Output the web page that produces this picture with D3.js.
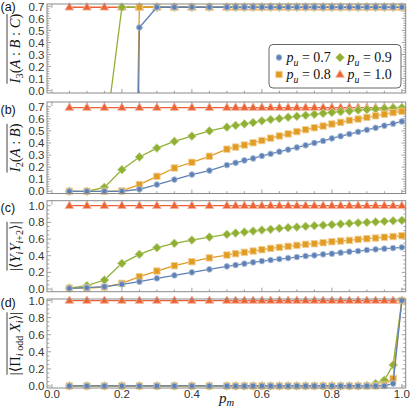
<!DOCTYPE html>
<html><head><meta charset="utf-8">
<script src="https://cdn.jsdelivr.net/npm/d3@7"></script>
<style>body{margin:0;background:#fff} svg{display:block}</style>
</head><body>
<svg id="c" width="411" height="415"></svg>
<script>
// ---- data ----
const pm = [0.05,0.1,0.15,0.2,0.25,0.3,0.35,0.4,0.45,0.5,0.525,0.55,0.575,0.6,0.625,0.65,0.675,0.7,0.725,0.75,0.775,0.8,0.825,0.85,0.875,0.9,0.925,0.95,0.975,1.0];
const puLabels = ["0.7","0.8","0.9","1.0"];

// (a) I3(A:B:C)
const I3_pu07 = [-12,-12,-12,-12,0.525,0.693,0.693,0.693,0.693,0.693,0.693,0.693,0.693,0.693,0.693,0.693,0.693,0.693,0.693,0.693,0.693,0.693,0.693,0.693,0.693,0.693,0.693,0.693,0.693,0.693];
const I3_pu08 = [-10,-10,-8,-7,0.693,0.693,0.693,0.693,0.693,0.693,0.693,0.693,0.693,0.693,0.693,0.693,0.693,0.693,0.693,0.693,0.693,0.693,0.693,0.693,0.693,0.693,0.693,0.693,0.693,0.693];
const I3_pu09 = [-1.2,-0.9,-0.44,0.693,0.693,0.693,0.693,0.693,0.693,0.693,0.693,0.693,0.693,0.693,0.693,0.693,0.693,0.693,0.693,0.693,0.693,0.693,0.693,0.693,0.693,0.693,0.693,0.693,0.693,0.693];
const I3_pu10 = [0.693,0.693,0.693,0.693,0.693,0.693,0.693,0.693,0.693,0.693,0.693,0.693,0.693,0.693,0.693,0.693,0.693,0.693,0.693,0.693,0.693,0.693,0.693,0.693,0.693,0.693,0.693,0.693,0.693,0.693];

// (b) I2(A:B)
const I2_pu07 = [0,0,0,0,0.017,0.056,0.097,0.139,0.172,0.217,0.236,0.256,0.272,0.293,0.31,0.328,0.345,0.363,0.381,0.4,0.417,0.438,0.456,0.474,0.492,0.509,0.525,0.543,0.56,0.578];
const I2_pu08 = [0,0,0,0.003,0.056,0.124,0.193,0.24,0.29,0.349,0.366,0.383,0.402,0.42,0.44,0.458,0.475,0.494,0.51,0.526,0.54,0.557,0.571,0.587,0.598,0.612,0.625,0.638,0.651,0.662];
const I2_pu09 = [0,0,0.033,0.179,0.284,0.358,0.413,0.457,0.5,0.531,0.545,0.558,0.569,0.583,0.594,0.602,0.613,0.621,0.629,0.637,0.645,0.653,0.659,0.664,0.672,0.677,0.682,0.686,0.69,0.692];
const I2_pu10 = [0.693,0.693,0.693,0.693,0.693,0.693,0.693,0.693,0.693,0.693,0.693,0.693,0.693,0.693,0.693,0.693,0.693,0.693,0.693,0.693,0.693,0.693,0.693,0.693,0.693,0.693,0.693,0.693,0.693,0.693];

// (c) |<Y_i Y_i+2>|
const YY_pu07 = [0.008,0.016,0.028,0.056,0.088,0.128,0.164,0.2,0.236,0.272,0.288,0.304,0.32,0.336,0.348,0.36,0.372,0.384,0.396,0.404,0.416,0.424,0.436,0.448,0.456,0.468,0.476,0.484,0.492,0.5];
const YY_pu08 = [0.01,0.012,0.024,0.068,0.148,0.216,0.28,0.328,0.374,0.408,0.424,0.44,0.456,0.472,0.488,0.5,0.512,0.524,0.536,0.544,0.556,0.568,0.576,0.584,0.596,0.604,0.612,0.622,0.63,0.64];
const YY_pu09 = [0.01,0.04,0.108,0.308,0.416,0.496,0.548,0.588,0.624,0.656,0.672,0.684,0.696,0.708,0.716,0.728,0.736,0.744,0.752,0.76,0.766,0.772,0.78,0.788,0.794,0.8,0.806,0.812,0.818,0.824];
const YY_pu10 = [1,1,1,1,1,1,1,1,1,1,1,1,1,1,1,1,1,1,1,1,1,1,1,1,1,1,1,1,1,1];

// (d) |<Prod_odd X_i>|
const PX_pu07 = [0,0,0,0,0,0,0,0,0,0,0,0,0,0,0,0,0,0,0,0,0,0,0,0,0,0,0,0,0.028,1];
const PX_pu08 = [0,0,0,0,0,0,0,0,0,0,0,0,0,0,0,0,0,0,0,0,0,0,0,0,0,0,0,0.01,0.087,1];
const PX_pu09 = [0,0,0,0,0,0,0,0,0,0,0,0,0,0,0,0,0,0,0,0,0,0,0,0,0,0.005,0.028,0.067,0.246,1];
const PX_pu10 = [1,1,1,1,1,1,1,1,1,1,1,1,1,1,1,1,1,1,1,1,1,1,1,1,1,1,1,1,1,1];

const xTicks = [0,0.2,0.4,0.6,0.8,1.0];

// ---- styles ----
const colors = ["#5E81B5","#E19C24","#8FB032","#EB6235"];
const markerPaths = [
  d3.symbol(d3.symbolCircle, 26)(),
  "M-3.2,-3.2H3.2V3.2H-3.2Z",
  "M0,-4.4L4.4,0L0,4.4L-4.4,0Z",
  "M0,-4.6L4.3,2.8L-4.3,2.8Z"
];
const FRAME = "#8a8a8a";
const SERIF = "'Liberation Serif','DejaVu Serif',serif";
const SANS = "'Liberation Sans',Arial,sans-serif";

const svg = d3.select("#c");
const x = d3.scaleLinear().domain([-0.014,1.011]).range([47,405.7]);

const panels = [
  {top:4, bottom:93, dom:[-0.02,0.72], max:0.7, major:0.1, minor:0.02, series:[I3_pu07,I3_pu08,I3_pu09,I3_pu10], lab:"(a)", labY:11, name:"a"},
  {top:102, bottom:193.5, dom:[-0.018,0.739], max:0.7, major:0.1, minor:0.02, series:[I2_pu07,I2_pu08,I2_pu09,I2_pu10], lab:"(b)", labY:114, name:"b"},
  {top:200.7, bottom:291.7, dom:[-0.032,1.06], max:1.0, major:0.2, minor:0.05, series:[YY_pu07,YY_pu08,YY_pu09,YY_pu10], lab:"(c)", labY:212, name:"c"},
  {top:299, bottom:388, dom:[-0.024,1.018], max:1.0, major:0.2, minor:0.05, series:[PX_pu07,PX_pu08,PX_pu09,PX_pu10], lab:"(d)", labY:307, name:"d"}
];

const defs = svg.append("defs");
const x0 = x.range()[0], x1 = x.range()[1];

panels.forEach((p, pi) => {
  const y = d3.scaleLinear().domain(p.dom).range([p.bottom, p.top]);
  const g = svg.append("g");
  defs.append("clipPath").attr("id","clip"+p.name).append("rect")
    .attr("x",x0).attr("y",p.top).attr("width",x1-x0).attr("height",p.bottom-p.top);

  // ticks
  const yMajor = d3.range(0, p.max+1e-9, p.major);
  const yMinor = d3.range(0, p.max+1e-9, p.minor).filter(v => !yMajor.some(m => Math.abs(m-v)<1e-9));
  const xMinor = d3.range(0, 1.0001, 0.05).filter(v => !xTicks.some(m => Math.abs(m-v)<1e-9));
  const tk = g.append("g").attr("stroke",FRAME).attr("stroke-width",0.8);
  yMajor.forEach(v => {
    tk.append("line").attr("x1",x0).attr("x2",x0+4).attr("y1",y(v)).attr("y2",y(v));
    tk.append("line").attr("x1",x1).attr("x2",x1-4).attr("y1",y(v)).attr("y2",y(v));
  });
  yMinor.forEach(v => {
    tk.append("line").attr("x1",x0).attr("x2",x0+2.3).attr("y1",y(v)).attr("y2",y(v));
    tk.append("line").attr("x1",x1).attr("x2",x1-2.3).attr("y1",y(v)).attr("y2",y(v));
  });
  xTicks.forEach(v => {
    tk.append("line").attr("x1",x(v)).attr("x2",x(v)).attr("y1",p.bottom).attr("y2",p.bottom-4);
    tk.append("line").attr("x1",x(v)).attr("x2",x(v)).attr("y1",p.top).attr("y2",p.top+4);
  });
  xMinor.forEach(v => {
    tk.append("line").attr("x1",x(v)).attr("x2",x(v)).attr("y1",p.bottom).attr("y2",p.bottom-2.3);
    tk.append("line").attr("x1",x(v)).attr("x2",x(v)).attr("y1",p.top).attr("y2",p.top+2.3);
  });

  // y tick labels
  g.append("g").selectAll("text").data(yMajor).join("text")
    .attr("x",44.5).attr("y",v => y(v)+4.1).attr("text-anchor","end")
    .attr("font-family",SANS).attr("font-size",11.5).attr("fill","#333")
    .text(d3.format(".1f"));

  // series: draw red, green, orange, blue (blue on top)
  const line = d3.line().x((d,i)=>x(pm[i])).y(d=>y(d));
  [3,2,1,0].forEach(si => {
    const vals = p.series[si];
    const sg = g.append("g");
    sg.append("path").attr("d", line(vals)).attr("fill","none")
      .attr("stroke",colors[si]).attr("stroke-width",1.3)
      .attr("clip-path","url(#clip"+p.name+")");
    const halo = d3.interpolateRgb(colors[si],"#ffffff")(0.5);
    sg.selectAll("path.m").data(vals.map((v,i)=>[pm[i],v]).filter(d => d[1]>=p.dom[0] && d[1]<=p.dom[1]))
      .join("path").attr("class","m")
      .attr("transform", d => `translate(${x(d[0])},${y(d[1])})`)
      .attr("d", markerPaths[si]).attr("fill",colors[si])
      .attr("stroke",halo).attr("stroke-width",0.9);
  });

  // frame
  g.append("rect").attr("x",x0).attr("y",p.top).attr("width",x1-x0).attr("height",p.bottom-p.top)
    .attr("fill","none").attr("stroke",FRAME).attr("stroke-width",1);

  // panel label
  svg.append("text").attr("x",0.5).attr("y",p.labY).attr("font-family",SANS).attr("font-size",12.5)
    .attr("fill","#111").text(p.lab);
});

// x tick labels
svg.append("g").selectAll("text").data(xTicks).join("text")
  .attr("x",v=>x(v)).attr("y",397.5).attr("text-anchor","middle")
  .attr("font-family",SANS).attr("font-size",11.5).attr("fill","#333")
  .text(d3.format(".1f"));

// math text helper: parts = [text, style] ; style: i italic, s sub, si sub italic, r roman
function mathText(sel, parts, size) {
  const t = sel.append("text").attr("font-family",SERIF).attr("font-size",size).attr("fill","#111");
  let shifted = false;
  parts.forEach(([txt, st]) => {
    const ts = t.append("tspan").text(txt);
    const sub = st.includes("s");
    if (st.includes("i")) ts.attr("font-style","italic");
    if (sub) {
      ts.attr("font-size", size*0.7);
      if (!shifted) { ts.attr("dy", size*0.25); shifted = true; }
    } else if (shifted) { ts.attr("dy", -size*0.25); shifted = false; }
  });
  return t;
}

// y-axis labels with overline
const yLabels = [
  [["I","i"],["3","s"],["(",""],["A","i"],[" : ",""],["B","i"],[" : ",""],["C","i"],[")",""]],
  [["I","i"],["2","s"],["(",""],["A","i"],[" : ",""],["B","i"],[")",""]],
  [["|⟨",""],["Y","i"],["i","si"],["Y","i"],["i","si"],["+2","s"],["⟩|",""]],
  [["|⟨",""],["Π",""],["i","si"],[" odd","s"],[" X","i"],["i","si"],["⟩|",""]]
];
panels.forEach((p, pi) => {
  const cy = (p.top+p.bottom)/2;
  const g = svg.append("g").attr("transform",`translate(19.5,${cy}) rotate(-90)`);
  const t = mathText(g, yLabels[pi], 14.5).attr("text-anchor","middle");
  const bb = t.node().getBBox();
  g.append("line").attr("x1",bb.x+0.5).attr("x2",bb.x+bb.width-0.5)
    .attr("y1",bb.y+0.5).attr("y2",bb.y+0.5).attr("stroke","#111").attr("stroke-width",0.8);
});

// x-axis label
mathText(svg.append("g").attr("transform","translate(219,402.5)"), [["p","i"],["m","si"]], 15);

// legend
const lg = svg.append("g");
lg.append("rect").attr("x",269).attr("y",44.5).attr("width",132).attr("height",43.5).attr("rx",4)
  .attr("fill","#fff").attr("stroke","#555").attr("stroke-width",0.9);
const legPos = [[279,57.5],[279,74.5],[340,57.5],[340,74.5]];
[0,1,2,3].forEach(si => {
  const [lx,ly] = legPos[si];
  lg.append("path").attr("transform",`translate(${lx},${ly})`).attr("d",markerPaths[si])
    .attr("fill",colors[si]).attr("stroke",d3.interpolateRgb(colors[si],"#fff")(0.5)).attr("stroke-width",0.9);
  mathText(lg.append("g").attr("transform",`translate(${lx+7.5},${ly+4.5})`),
    [["p","i"],["u","si"],[" = "+puLabels[si],""]], 14);
});
</script>
</body></html>
